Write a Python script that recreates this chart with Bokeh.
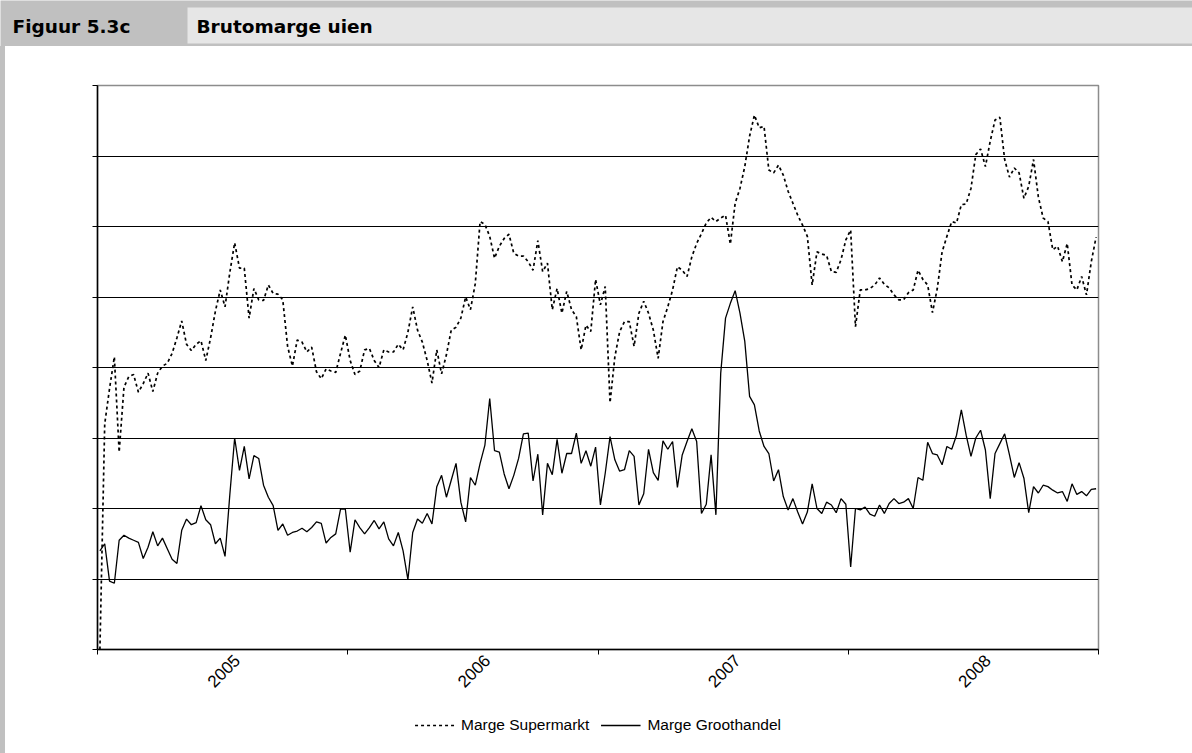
import math
from bokeh.plotting import figure
from bokeh.layouts import column, row
from bokeh.models import (Range1d, FixedTicker, Legend, LegendItem, ColumnDataSource, Div)
from bokeh.core.properties import value
from bokeh.embed import file_html
from bokeh.resources import INLINE

# ---------------- data (weekly values) ----------------
years = ["2005", "2006", "2007", "2008"]
weeks_per_year = 52

supermarkt_2005 = [0.0, 3.2, 3.7, 4.15, 2.8, 3.72, 3.87, 3.9, 3.65, 3.77, 3.92, 3.66, 3.92,
                   4.02, 4.06, 4.2, 4.42, 4.66, 4.33, 4.24, 4.33, 4.38, 4.1, 4.42, 4.8, 5.1,
                   4.86, 5.35, 5.77, 5.41, 5.41, 4.7, 5.12, 4.96, 4.95, 5.17, 5.05, 5.04, 4.96,
                   4.3, 4.02, 4.39, 4.36, 4.22, 4.29, 3.94, 3.84, 3.98, 3.95, 3.93, 4.2, 4.46]
supermarkt_2006 = [4.1, 3.9, 3.95, 4.25, 4.27, 4.1, 4.0, 4.25, 4.22, 4.22, 4.33, 4.25, 4.5,
                   4.86, 4.53, 4.36, 4.1, 3.78, 4.25, 3.91, 4.18, 4.53, 4.57, 4.7, 5.0, 4.82,
                   5.19, 6.07, 6.03, 5.86, 5.55, 5.72, 5.83, 5.89, 5.62, 5.58, 5.58, 5.5, 5.38,
                   5.8, 5.36, 5.48, 4.82, 5.12, 4.77, 5.08, 4.82, 4.72, 4.25, 4.6, 4.51, 5.25]
supermarkt_2007 = [4.89, 5.15, 3.5, 4.15, 4.51, 4.65, 4.65, 4.3, 4.77, 4.94, 4.77, 4.53, 4.13,
                   4.65, 4.86, 5.1, 5.43, 5.38, 5.29, 5.57, 5.76, 5.9, 6.05, 6.13, 6.07, 6.12,
                   6.16, 5.75, 6.33, 6.54, 6.85, 7.28, 7.58, 7.4, 7.42, 6.8, 6.76, 6.87, 6.73,
                   6.5, 6.33, 6.16, 6.02, 5.86, 5.17, 5.64, 5.61, 5.59, 5.36, 5.35, 5.53, 5.81]
supermarkt_2008 = [5.95, 4.58, 5.1, 5.1, 5.12, 5.17, 5.27, 5.18, 5.13, 5.03, 4.96, 4.96, 5.06,
                   5.1, 5.38, 5.25, 5.17, 4.78, 5.12, 5.64, 5.86, 6.07, 6.05, 6.31, 6.32, 6.54,
                   7.02, 7.1, 6.85, 7.21, 7.51, 7.55, 6.95, 6.7, 6.83, 6.76, 6.4, 6.57, 6.95,
                   6.42, 6.12, 6.07, 5.67, 5.72, 5.5, 5.76, 5.17, 5.1, 5.29, 5.03, 5.5, 5.85]

groothandel_2005 = [1.40, 1.50, 0.97, 0.94, 1.55, 1.62, 1.58, 1.55, 1.52, 1.29, 1.45, 1.67, 1.47,
                    1.58, 1.43, 1.28, 1.22, 1.69, 1.85, 1.77, 1.80, 2.04, 1.84, 1.77, 1.50, 1.58,
                    1.32, 2.2, 3.0, 2.54, 2.88, 2.42, 2.75, 2.71, 2.33, 2.16, 2.04, 1.69, 1.78,
                    1.62, 1.66, 1.68, 1.72, 1.67, 1.73, 1.81, 1.79, 1.51, 1.59, 1.64, 1.99, 1.99]
groothandel_2006 = [1.38, 1.84, 1.73, 1.64, 1.73, 1.83, 1.71, 1.81, 1.57, 1.47, 1.66, 1.40, 0.99,
                    1.66, 1.85, 1.79, 1.93, 1.78, 2.31, 2.47, 2.16, 2.40, 2.64, 2.09, 1.81, 2.44,
                    2.33, 2.64, 2.90, 3.56, 2.82, 2.80, 2.49, 2.28, 2.47, 2.71, 3.06, 3.07, 2.39,
                    2.77, 1.91, 2.64, 2.48, 2.98, 2.50, 2.78, 2.78, 3.07, 2.64, 2.82, 2.60, 2.87]
groothandel_2007 = [2.05, 2.50, 3.02, 2.69, 2.53, 2.55, 2.82, 2.74, 2.05, 2.21, 2.84, 2.51, 2.40,
                    2.96, 2.84, 2.95, 2.30, 2.76, 2.95, 3.13, 2.95, 1.93, 2.06, 2.76, 1.91, 3.92,
                    4.70, 4.91, 5.09, 4.77, 4.37, 3.59, 3.47, 3.1, 2.88, 2.78, 2.39, 2.55, 2.17,
                    1.98, 2.14, 1.95, 1.78, 1.95, 2.35, 2.0, 1.93, 2.09, 2.05, 1.94, 2.14, 2.06]
groothandel_2008 = [1.17, 2.0, 1.98, 2.02, 1.92, 1.89, 2.05, 1.93, 2.07, 2.14, 2.07, 2.09, 2.14,
                    2.0, 2.44, 2.40, 2.94, 2.78, 2.76, 2.62, 2.88, 2.84, 3.04, 3.40, 3.04, 2.74,
                    3.0, 3.11, 2.83, 2.14, 2.78, 2.92, 3.06, 2.76, 2.44, 2.65, 2.43, 1.94, 2.31,
                    2.22, 2.33, 2.31, 2.26, 2.22, 2.24, 2.10, 2.35, 2.20, 2.24, 2.18, 2.27, 2.28]

series_labels = ["Marge Supermarkt", "Marge Groothandel"]
header_number = "Figuur 5.3c"
header_title = "Brutomarge uien"

supermarkt = supermarkt_2005 + supermarkt_2006 + supermarkt_2007 + supermarkt_2008
groothandel = groothandel_2005 + groothandel_2006 + groothandel_2007 + groothandel_2008
n = len(supermarkt)
weeks = [i + 0.5 for i in range(n)]

# ---------------- sizes ----------------
PAGE_W, PAGE_H = 1192, 753
HEADER_H = 46
STRIP_W = 5
MAIN_W = PAGE_W - STRIP_W
LEGEND_H = 56
MAIN_H = PAGE_H - HEADER_H - LEGEND_H
NARROW = "'Liberation Sans Narrow', 'Liberation Sans', Arial, sans-serif"
DARK = "#c0c0c0"
LIGHT = "#e6e6e6"
SM_STYLE = dict(line_color="black", line_width=1.7, line_dash="3 3")
GH_STYLE = dict(line_color="black", line_width=1.3)


def bare_figure(w, h, xr, yr, fill):
    f = figure(width=w, height=h, output_backend="svg", toolbar_location=None,
               x_range=xr, y_range=yr, x_axis_location=None, y_axis_location=None,
               min_border=0, min_border_left=0, min_border_right=0,
               min_border_top=0, min_border_bottom=0)
    f.background_fill_color = fill
    f.border_fill_color = fill
    f.outline_line_color = None
    f.grid.visible = False
    return f


# ---------------- header band ----------------
hdr = bare_figure(PAGE_W, HEADER_H, Range1d(0, PAGE_W), Range1d(HEADER_H, 0), DARK)
hdr.quad(left=[187], right=[PAGE_W], top=[7], bottom=[43], fill_color=LIGHT, line_color=None)
hdr.text(x=[12, 196], y=[26, 26], text=[header_number, header_title],
         text_font=value("DejaVu Sans"), text_font_style="bold", text_font_size="18.5px",
         text_baseline="middle", text_color="black")

# ---------------- left strip ----------------
strip = Div(text="", width=STRIP_W, height=MAIN_H + LEGEND_H, margin=0,
            styles={"background-color": DARK})

# ---------------- main chart ----------------
p = figure(width=MAIN_W, height=MAIN_H, output_backend="svg", toolbar_location=None,
           x_range=Range1d(0, n), y_range=Range1d(0, 8),
           min_border_left=92, min_border_right=94, min_border_top=39, min_border_bottom=48)
p.background_fill_color = "white"
p.border_fill_color = "white"
p.outline_line_color = "#8c8c8c"
p.outline_line_width = 1.5

src = ColumnDataSource(dict(week=weeks, sm=supermarkt, gh=groothandel))
p.line("week", "sm", source=src, **SM_STYLE)
p.line("week", "gh", source=src, **GH_STYLE)

year_bounds = [k * weeks_per_year for k in range(len(years) + 1)]
label_pos = [k * weeks_per_year + weeks_per_year // 2 + 3 for k in range(len(years))]
xa = p.xaxis[0]
xa.ticker = FixedTicker(ticks=label_pos, minor_ticks=year_bounds)
xa.major_label_overrides = {pos: y for pos, y in zip(label_pos, years)}
xa.major_tick_line_color = None
xa.major_tick_out = 5
xa.minor_tick_line_color = "black"
xa.minor_tick_out = 5
xa.minor_tick_in = 0
xa.axis_line_color = "black"
xa.axis_line_width = 1.5
xa.major_label_orientation = math.pi / 4
xa.major_label_text_font = NARROW
xa.major_label_text_font_size = "17px"
xa.major_label_text_color = "black"
xa.major_label_standoff = 3

ya = p.yaxis[0]
ya.ticker = FixedTicker(ticks=list(range(9)))
ya.major_label_overrides = {i: "" for i in range(9)}
ya.major_tick_out = 5
ya.major_tick_in = 0
ya.minor_tick_line_color = None
ya.axis_line_color = "black"
ya.axis_line_width = 1.5

p.xgrid.visible = False
p.ygrid.ticker = FixedTicker(ticks=list(range(1, 8)))
p.ygrid.grid_line_color = "black"
p.ygrid.grid_line_width = 1

# ---------------- legend strip below the chart ----------------
# sample renderers only carry the line styles; their points lie outside the range
leg = bare_figure(MAIN_W, LEGEND_H, Range1d(0, 1), Range1d(0, 1), "white")
l_sm = leg.line(x=[-3, -2], y=[-3, -3], **SM_STYLE)
l_gh = leg.line(x=[-3, -2], y=[-3, -3], **GH_STYLE)
legend = Legend(items=[LegendItem(label=series_labels[0], renderers=[l_sm]),
                       LegendItem(label=series_labels[1], renderers=[l_gh])],
                orientation="horizontal", location="center",
                glyph_width=40, glyph_height=16, label_height=16,
                label_standoff=7, spacing=11,
                padding=0, margin=0, border_line_color=None, background_fill_alpha=0,
                label_text_font=NARROW, label_text_font_size="15.5px",
                label_text_color="black")
leg.add_layout(legend)

layout = column(hdr, row(strip, column(p, leg, spacing=0), spacing=0), spacing=0)

open("out.html", "w").write(file_html(layout, INLINE))
